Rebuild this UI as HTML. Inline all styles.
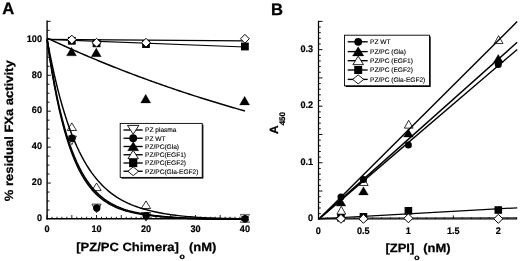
<!DOCTYPE html>
<html><head><meta charset="utf-8"><title>Figure</title>
<style>
html,body{margin:0;padding:0;background:#fff;}
svg{display:block;}
text{font-family:"Liberation Sans",Arial,sans-serif;fill:#000;text-rendering:geometricPrecision;}
.tk{font-size:9.5px;font-weight:bold;stroke:#000;stroke-width:0.2px;}
.lg{font-size:6.6px;stroke:#000;stroke-width:0.12px;}
.pn{font-size:16.6px;font-weight:bold;stroke:#000;stroke-width:0.3px;}
.ti{font-size:12px;font-weight:bold;stroke:#000;stroke-width:0.25px;}
.sb{font-size:8px;font-weight:bold;}
.sb2{font-size:8px;font-weight:bold;}
</style></head><body>
<svg width="520" height="261" viewBox="0 0 520 261">
<rect width="520" height="261" fill="#fff"/>
<g id="panelA">
<polygon points="67.17,130.50 76.48,130.50 71.83,122.90" fill="#fff" stroke="#000" stroke-width="0.8" stroke-linejoin="miter"/>
<polygon points="91.90,190.60 101.20,190.60 96.55,183.00" fill="#fff" stroke="#000" stroke-width="0.8" stroke-linejoin="miter"/>
<polygon points="141.35,208.50 150.65,208.50 146.00,200.90" fill="#fff" stroke="#000" stroke-width="0.8" stroke-linejoin="miter"/>
<polygon points="240.25,222.40 249.55,222.40 244.90,214.80" fill="#fff" stroke="#000" stroke-width="0.6" stroke-linejoin="miter"/>
<polygon points="67.23,136.10 76.42,136.10 71.83,144.70" fill="#fff" stroke="#000" stroke-width="0.75"/>
<polygon points="91.95,204.10 101.15,204.10 96.55,212.70" fill="#fff" stroke="#000" stroke-width="0.75"/>
<polygon points="141.40,212.50 150.60,212.50 146.00,221.10" fill="#fff" stroke="#000" stroke-width="0.75"/>
<polygon points="240.30,214.40 249.50,214.40 244.90,223.00" fill="#fff" stroke="#000" stroke-width="0.6"/>
<polyline points="47.10,39.30 49.57,56.50 52.05,72.04 54.52,86.09 56.99,98.79 59.46,110.26 61.94,120.62 64.41,129.99 66.88,138.46 69.35,146.11 71.83,153.03 74.30,159.28 76.77,164.92 79.24,170.03 81.72,174.64 84.19,178.81 86.66,182.57 89.13,185.98 91.61,189.05 94.08,191.83 96.55,194.34 99.02,196.62 101.50,198.67 103.97,200.52 106.44,202.20 108.91,203.71 111.38,205.08 113.86,206.32 116.33,207.43 118.80,208.44 121.28,209.36 123.75,210.18 126.22,210.93 128.69,211.60 131.16,212.21 133.64,212.76 136.11,213.27 138.58,213.74 141.06,214.16 143.53,214.56 146.00,214.92 148.47,215.26 150.94,215.57 153.42,215.86 155.89,216.14 158.36,216.39 160.84,216.62 163.31,216.84 165.78,217.05 168.25,217.24 170.72,217.42 173.20,217.58 175.67,217.74 178.14,217.89 180.62,218.02 183.09,218.15 185.56,218.27 188.03,218.38 190.50,218.48 192.98,218.57 195.45,218.65 197.92,218.72 200.40,218.79 202.87,218.84 205.34,218.89 207.81,218.93 210.28,218.95 212.76,218.98 215.23,219.00 217.70,219.01 220.18,219.03 222.65,219.04 225.12,219.06 227.59,219.07 230.06,219.08 232.54,219.09 235.01,219.10 237.48,219.11 239.96,219.11 242.43,219.12 244.90,219.13" fill="none" stroke="#000" stroke-width="1.6"/>
<polyline points="47.10,39.30 49.57,55.85 52.05,70.87 54.52,84.50 56.99,96.86 59.46,108.08 61.94,118.26 64.41,127.50 66.88,135.88 69.35,143.48 71.83,150.38 74.30,156.64 76.77,162.32 79.24,167.47 81.72,172.15 84.19,176.39 86.66,180.24 89.13,183.73 91.61,186.90 94.08,189.77 96.55,192.38 99.02,194.75 101.50,196.90 103.97,198.84 106.44,200.61 108.91,202.22 111.38,203.67 113.86,204.99 116.33,206.19 118.80,207.28 121.28,208.26 123.75,209.16 126.22,209.97 128.69,210.71 131.16,211.38 133.64,211.99 136.11,212.55 138.58,213.06 141.06,213.54 143.53,213.98 146.00,214.38 148.47,214.76 150.94,215.11 153.42,215.43 155.89,215.74 158.36,216.02 160.84,216.28 163.31,216.52 165.78,216.75 168.25,216.97 170.72,217.17 173.20,217.35 175.67,217.53 178.14,217.69 180.62,217.84 183.09,217.98 185.56,218.11 188.03,218.23 190.50,218.35 192.98,218.45 195.45,218.54 197.92,218.62 200.40,218.69 202.87,218.76 205.34,218.81 207.81,218.85 210.28,218.89 212.76,218.91 215.23,218.94 217.70,218.96 220.18,218.98 222.65,219.00 225.12,219.02 227.59,219.03 230.06,219.05 232.54,219.06 235.01,219.07 237.48,219.08 239.96,219.09 242.43,219.10 244.90,219.10" fill="none" stroke="#000" stroke-width="1.6"/>
<polyline points="47.10,39.30 49.57,52.39 52.05,64.51 54.52,75.75 56.99,86.17 59.46,95.83 61.94,104.77 64.41,113.07 66.88,120.76 69.35,127.88 71.83,134.48 74.30,140.60 76.77,146.27 79.24,151.53 81.72,156.40 84.19,160.92 86.66,165.10 89.13,168.98 91.61,172.58 94.08,175.91 96.55,179.00 99.02,181.86 101.50,184.51 103.97,186.97 106.44,189.25 108.91,191.36 111.38,193.32 113.86,195.13 116.33,196.81 118.80,198.37 121.28,199.81 123.75,201.15 126.22,202.39 128.69,203.54 131.16,204.61 133.64,205.60 136.11,206.52 138.58,207.38 141.06,208.19 143.53,208.94 146.00,209.64 148.47,210.30 150.94,210.92 153.42,211.49 155.89,212.03 158.36,212.54 160.84,213.01 163.31,213.46 165.78,213.87 168.25,214.26 170.72,214.63 173.20,214.97 175.67,215.30 178.14,215.60 180.62,215.88 183.09,216.14 185.56,216.38 188.03,216.61 190.50,216.82 192.98,217.02 195.45,217.20 197.92,217.37 200.40,217.52 202.87,217.66 205.34,217.78 207.81,217.89 210.28,217.99 212.76,218.08 215.23,218.16 217.70,218.23 220.18,218.30 222.65,218.36 225.12,218.42 227.59,218.48 230.06,218.53 232.54,218.58 235.01,218.62 237.48,218.66 239.96,218.70 242.43,218.74 244.90,218.77" fill="none" stroke="#000" stroke-width="1.45"/>
<polyline points="47.10,38.04 49.57,39.21 52.05,40.36 54.52,41.51 56.99,42.65 59.46,43.78 61.94,44.91 64.41,46.03 66.88,47.14 69.35,48.25 71.83,49.35 74.30,50.44 76.77,51.52 79.24,52.60 81.72,53.67 84.19,54.73 86.66,55.79 89.13,56.83 91.61,57.88 94.08,58.91 96.55,59.94 99.02,60.97 101.50,61.98 103.97,62.99 106.44,63.99 108.91,64.99 111.38,65.98 113.86,66.96 116.33,67.94 118.80,68.91 121.28,69.88 123.75,70.84 126.22,71.79 128.69,72.74 131.16,73.68 133.64,74.61 136.11,75.54 138.58,76.46 141.06,77.38 143.53,78.29 146.00,79.19 148.47,80.09 150.94,80.98 153.42,81.87 155.89,82.75 158.36,83.63 160.84,84.50 163.31,85.36 165.78,86.22 168.25,87.08 170.72,87.93 173.20,88.77 175.67,89.61 178.14,90.44 180.62,91.26 183.09,92.09 185.56,92.90 188.03,93.71 190.50,94.52 192.98,95.32 195.45,96.11 197.92,96.90 200.40,97.69 202.87,98.47 205.34,99.24 207.81,100.01 210.28,100.78 212.76,101.54 215.23,102.29 217.70,103.04 220.18,103.79 222.65,104.53 225.12,105.27 227.59,106.00 230.06,106.72 232.54,107.45 235.01,108.16 237.48,108.88 239.96,109.58 242.43,110.29 244.90,110.99" fill="none" stroke="#000" stroke-width="1.45"/>
<line x1="47.10" y1="39.30" x2="244.90" y2="47.0" stroke="#000" stroke-width="1.25"/>
<line x1="47.10" y1="39.30" x2="244.90" y2="40.8" stroke="#000" stroke-width="1.25"/>
<line x1="47.1" y1="20.6" x2="47.1" y2="219.55" stroke="#000" stroke-width="1.4"/>
<line x1="46.4" y1="218.8" x2="244.9" y2="218.8" stroke="#000" stroke-width="1.5"/>
<line x1="47.1" y1="210.01" x2="49.50000000000001" y2="210.01" stroke="#000" stroke-width="0.95"/>
<line x1="47.1" y1="201.03" x2="49.50000000000001" y2="201.03" stroke="#000" stroke-width="0.95"/>
<line x1="47.1" y1="192.05" x2="49.50000000000001" y2="192.05" stroke="#000" stroke-width="0.95"/>
<line x1="47.1" y1="183.06" x2="50.800000000000004" y2="183.06" stroke="#000" stroke-width="0.95"/>
<line x1="47.1" y1="174.07" x2="49.50000000000001" y2="174.07" stroke="#000" stroke-width="0.95"/>
<line x1="47.1" y1="165.09" x2="49.50000000000001" y2="165.09" stroke="#000" stroke-width="0.95"/>
<line x1="47.1" y1="156.11" x2="49.50000000000001" y2="156.11" stroke="#000" stroke-width="0.95"/>
<line x1="47.1" y1="147.12" x2="50.800000000000004" y2="147.12" stroke="#000" stroke-width="0.95"/>
<line x1="47.1" y1="138.13" x2="49.50000000000001" y2="138.13" stroke="#000" stroke-width="0.95"/>
<line x1="47.1" y1="129.15" x2="49.50000000000001" y2="129.15" stroke="#000" stroke-width="0.95"/>
<line x1="47.1" y1="120.17" x2="49.50000000000001" y2="120.17" stroke="#000" stroke-width="0.95"/>
<line x1="47.1" y1="111.18" x2="50.800000000000004" y2="111.18" stroke="#000" stroke-width="0.95"/>
<line x1="47.1" y1="102.20" x2="49.50000000000001" y2="102.20" stroke="#000" stroke-width="0.95"/>
<line x1="47.1" y1="93.21" x2="49.50000000000001" y2="93.21" stroke="#000" stroke-width="0.95"/>
<line x1="47.1" y1="84.22" x2="49.50000000000001" y2="84.22" stroke="#000" stroke-width="0.95"/>
<line x1="47.1" y1="75.24" x2="50.800000000000004" y2="75.24" stroke="#000" stroke-width="0.95"/>
<line x1="47.1" y1="66.25" x2="49.50000000000001" y2="66.25" stroke="#000" stroke-width="0.95"/>
<line x1="47.1" y1="57.27" x2="49.50000000000001" y2="57.27" stroke="#000" stroke-width="0.95"/>
<line x1="47.1" y1="48.28" x2="49.50000000000001" y2="48.28" stroke="#000" stroke-width="0.95"/>
<line x1="47.1" y1="39.30" x2="50.800000000000004" y2="39.30" stroke="#000" stroke-width="0.95"/>
<line x1="47.1" y1="30.31" x2="49.50000000000001" y2="30.31" stroke="#000" stroke-width="0.95"/>
<line x1="47.1" y1="21.33" x2="50.6" y2="21.33" stroke="#000" stroke-width="0.95"/>
<line x1="47.10" y1="218.8" x2="47.10" y2="215.05" stroke="#000" stroke-width="0.9"/>
<line x1="52.05" y1="218.8" x2="52.05" y2="216.75" stroke="#000" stroke-width="0.9"/>
<line x1="56.99" y1="218.8" x2="56.99" y2="216.75" stroke="#000" stroke-width="0.9"/>
<line x1="61.94" y1="218.8" x2="61.94" y2="216.75" stroke="#000" stroke-width="0.9"/>
<line x1="66.88" y1="218.8" x2="66.88" y2="216.75" stroke="#000" stroke-width="0.9"/>
<line x1="71.83" y1="218.8" x2="71.83" y2="215.05" stroke="#000" stroke-width="0.9"/>
<line x1="76.77" y1="218.8" x2="76.77" y2="216.75" stroke="#000" stroke-width="0.9"/>
<line x1="81.72" y1="218.8" x2="81.72" y2="216.75" stroke="#000" stroke-width="0.9"/>
<line x1="86.66" y1="218.8" x2="86.66" y2="216.75" stroke="#000" stroke-width="0.9"/>
<line x1="91.61" y1="218.8" x2="91.61" y2="216.75" stroke="#000" stroke-width="0.9"/>
<line x1="96.55" y1="218.8" x2="96.55" y2="215.05" stroke="#000" stroke-width="0.9"/>
<line x1="101.50" y1="218.8" x2="101.50" y2="216.75" stroke="#000" stroke-width="0.9"/>
<line x1="106.44" y1="218.8" x2="106.44" y2="216.75" stroke="#000" stroke-width="0.9"/>
<line x1="111.38" y1="218.8" x2="111.38" y2="216.75" stroke="#000" stroke-width="0.9"/>
<line x1="116.33" y1="218.8" x2="116.33" y2="216.75" stroke="#000" stroke-width="0.9"/>
<line x1="121.28" y1="218.8" x2="121.28" y2="215.05" stroke="#000" stroke-width="0.9"/>
<line x1="126.22" y1="218.8" x2="126.22" y2="216.75" stroke="#000" stroke-width="0.9"/>
<line x1="131.16" y1="218.8" x2="131.16" y2="216.75" stroke="#000" stroke-width="0.9"/>
<line x1="136.11" y1="218.8" x2="136.11" y2="216.75" stroke="#000" stroke-width="0.9"/>
<line x1="141.06" y1="218.8" x2="141.06" y2="216.75" stroke="#000" stroke-width="0.9"/>
<line x1="146.00" y1="218.8" x2="146.00" y2="215.05" stroke="#000" stroke-width="0.9"/>
<line x1="150.94" y1="218.8" x2="150.94" y2="216.75" stroke="#000" stroke-width="0.9"/>
<line x1="155.89" y1="218.8" x2="155.89" y2="216.75" stroke="#000" stroke-width="0.9"/>
<line x1="160.84" y1="218.8" x2="160.84" y2="216.75" stroke="#000" stroke-width="0.9"/>
<line x1="165.78" y1="218.8" x2="165.78" y2="216.75" stroke="#000" stroke-width="0.9"/>
<line x1="170.72" y1="218.8" x2="170.72" y2="215.05" stroke="#000" stroke-width="0.9"/>
<line x1="175.67" y1="218.8" x2="175.67" y2="216.75" stroke="#000" stroke-width="0.9"/>
<line x1="180.62" y1="218.8" x2="180.62" y2="216.75" stroke="#000" stroke-width="0.9"/>
<line x1="185.56" y1="218.8" x2="185.56" y2="216.75" stroke="#000" stroke-width="0.9"/>
<line x1="190.50" y1="218.8" x2="190.50" y2="216.75" stroke="#000" stroke-width="0.9"/>
<line x1="195.45" y1="218.8" x2="195.45" y2="215.05" stroke="#000" stroke-width="0.9"/>
<line x1="200.40" y1="218.8" x2="200.40" y2="216.75" stroke="#000" stroke-width="0.9"/>
<line x1="205.34" y1="218.8" x2="205.34" y2="216.75" stroke="#000" stroke-width="0.9"/>
<line x1="210.28" y1="218.8" x2="210.28" y2="216.75" stroke="#000" stroke-width="0.9"/>
<line x1="215.23" y1="218.8" x2="215.23" y2="216.75" stroke="#000" stroke-width="0.9"/>
<line x1="220.18" y1="218.8" x2="220.18" y2="215.05" stroke="#000" stroke-width="0.9"/>
<line x1="225.12" y1="218.8" x2="225.12" y2="216.75" stroke="#000" stroke-width="0.9"/>
<line x1="230.06" y1="218.8" x2="230.06" y2="216.75" stroke="#000" stroke-width="0.9"/>
<line x1="235.01" y1="218.8" x2="235.01" y2="216.75" stroke="#000" stroke-width="0.9"/>
<line x1="239.96" y1="218.8" x2="239.96" y2="216.75" stroke="#000" stroke-width="0.9"/>
<line x1="244.90" y1="218.8" x2="244.90" y2="215.05" stroke="#000" stroke-width="0.9"/>
<text transform="translate(42,221.30) scale(0.96,1)" text-anchor="end" class="tk">0</text>
<text transform="translate(42,185.36) scale(0.96,1)" text-anchor="end" class="tk">20</text>
<text transform="translate(42,149.42) scale(0.96,1)" text-anchor="end" class="tk">40</text>
<text transform="translate(42,113.48) scale(0.96,1)" text-anchor="end" class="tk">60</text>
<text transform="translate(42,77.54) scale(0.96,1)" text-anchor="end" class="tk">80</text>
<text transform="translate(42,41.60) scale(0.96,1)" text-anchor="end" class="tk">100</text>
<text transform="translate(47.10,232.3) scale(0.96,1)" text-anchor="middle" class="tk">0</text>
<text transform="translate(96.55,232.3) scale(0.96,1)" text-anchor="middle" class="tk">10</text>
<text transform="translate(146.00,232.3) scale(0.96,1)" text-anchor="middle" class="tk">20</text>
<text transform="translate(195.45,232.3) scale(0.96,1)" text-anchor="middle" class="tk">30</text>
<text transform="translate(244.90,232.3) scale(0.96,1)" text-anchor="middle" class="tk">40</text>
<circle cx="72.03" cy="138.30" r="3.7" fill="#000"/>
<circle cx="96.75" cy="208.00" r="3.7" fill="#000"/>
<circle cx="146.20" cy="215.80" r="3.7" fill="#000"/>
<circle cx="245.10" cy="218.70" r="3.7" fill="#000"/>
<polygon points="66.53,55.80 76.53,55.80 71.53,47.20" fill="#000" stroke="#000" stroke-width="0.3" stroke-linejoin="miter"/>
<polygon points="91.25,56.70 101.25,56.70 96.25,48.10" fill="#000" stroke="#000" stroke-width="0.3" stroke-linejoin="miter"/>
<polygon points="140.70,102.90 150.70,102.90 145.70,94.30" fill="#000" stroke="#000" stroke-width="0.3" stroke-linejoin="miter"/>
<polygon points="239.60,104.90 249.60,104.90 244.60,96.30" fill="#000" stroke="#000" stroke-width="0.3" stroke-linejoin="miter"/>
<rect x="67.92" y="36.90" width="7.8" height="7.8" fill="#000"/>
<rect x="92.65" y="39.40" width="7.8" height="7.8" fill="#000"/>
<rect x="142.10" y="40.20" width="7.8" height="7.8" fill="#000"/>
<rect x="241.00" y="42.60" width="7.8" height="7.8" fill="#000"/>
<polygon points="67.42,39.60 71.83,35.20 76.23,39.60 71.83,44.00" fill="#fff" stroke="#000" stroke-width="1.0"/>
<polygon points="92.15,42.70 96.55,38.30 100.95,42.70 96.55,47.10" fill="#fff" stroke="#000" stroke-width="1.0"/>
<polygon points="141.60,42.70 146.00,38.30 150.40,42.70 146.00,47.10" fill="#fff" stroke="#000" stroke-width="1.0"/>
<polygon points="240.50,38.80 244.90,34.40 249.30,38.80 244.90,43.20" fill="#fff" stroke="#000" stroke-width="1.0"/>
<rect x="121.4" y="124.6" width="82" height="54" fill="#000"/>
<rect x="120.2" y="123.4" width="82" height="54" fill="#fff" stroke="#000" stroke-width="0.9"/>
<line x1="123.5" y1="130.0" x2="142.7" y2="130.0" stroke="#000" stroke-width="1.35"/>
<polygon points="127.50,125.40 138.90,125.40 133.20,134.20" fill="#fff" stroke="#000" stroke-width="0.9"/>
<text x="145" y="132.40" class="lg">PZ plasma</text>
<line x1="123.5" y1="138.25" x2="142.7" y2="138.25" stroke="#000" stroke-width="1.35"/>
<circle cx="133.20" cy="138.25" r="3.9" fill="#000"/>
<text x="145" y="140.65" class="lg">PZ WT</text>
<line x1="123.5" y1="146.5" x2="142.7" y2="146.5" stroke="#000" stroke-width="1.35"/>
<polygon points="127.60,150.70 138.80,150.70 133.20,141.70" fill="#000" stroke="#000" stroke-width="0.3" stroke-linejoin="miter"/>
<text x="145" y="148.90" class="lg">PZ/PC(Gla)</text>
<line x1="123.5" y1="154.75" x2="142.7" y2="154.75" stroke="#000" stroke-width="1.35"/>
<polygon points="128.00,158.65 138.40,158.65 133.20,150.25" fill="#fff" stroke="#000" stroke-width="0.9" stroke-linejoin="miter"/>
<text x="145" y="157.15" class="lg">PZ/PC(EGF1)</text>
<line x1="123.5" y1="163.0" x2="142.7" y2="163.0" stroke="#000" stroke-width="1.35"/>
<rect x="129.10" y="158.90" width="8.2" height="8.2" fill="#000"/>
<text x="145" y="165.40" class="lg">PZ/PC(EGF2)</text>
<line x1="123.5" y1="171.25" x2="142.7" y2="171.25" stroke="#000" stroke-width="1.35"/>
<polygon points="127.90,171.25 133.20,166.85 138.50,171.25 133.20,175.65" fill="#fff" stroke="#000" stroke-width="0.9"/>
<text x="145" y="173.65" class="lg">PZ/PC(Gla-EGF2)</text>
<text x="2.2" y="13.8" class="pn">A</text>
<text transform="translate(13.3,130.8) rotate(-90) scale(1.083,1)" text-anchor="middle" class="ti">% residual FXa activity</text>
<text transform="translate(76.2,251.2) scale(1.083,1)" class="ti">[PZ/PC Chimera]<tspan dy="7.4" dx="0.6" class="sb">o</tspan><tspan dy="-7.4" dx="0.6"> (nM)</tspan></text>
</g>
<g id="panelB">
<polygon points="336.88,214.15 345.68,214.15 341.28,206.25" fill="#fff" stroke="#000" stroke-width="0.8" stroke-linejoin="miter"/>
<polygon points="359.35,185.45 368.15,185.45 363.75,177.55" fill="#fff" stroke="#000" stroke-width="0.8" stroke-linejoin="miter"/>
<polygon points="404.30,128.15 413.10,128.15 408.70,120.25" fill="#fff" stroke="#000" stroke-width="0.8" stroke-linejoin="miter"/>
<polygon points="494.20,43.55 503.00,43.55 498.60,35.65" fill="#fff" stroke="#000" stroke-width="0.8" stroke-linejoin="miter"/>
<line x1="319.0" y1="218.9" x2="517.2" y2="21.5" stroke="#000" stroke-width="1.45"/>
<line x1="319.0" y1="218.9" x2="517.2" y2="42.3" stroke="#000" stroke-width="1.45"/>
<line x1="319.0" y1="218.9" x2="517.2" y2="49.5" stroke="#000" stroke-width="1.45"/>
<line x1="319.0" y1="218.9" x2="517.2" y2="207.8" stroke="#000" stroke-width="1.3"/>
<line x1="319.0" y1="218.0" x2="517.2" y2="217.6" stroke="#333" stroke-width="0.9"/>
<line x1="318.5" y1="20.8" x2="318.5" y2="219.6" stroke="#000" stroke-width="1.25"/>
<line x1="317.9" y1="218.9" x2="517.2" y2="218.9" stroke="#000" stroke-width="1.4"/>
<line x1="318.5" y1="213.65" x2="320.8" y2="213.65" stroke="#000" stroke-width="0.95"/>
<line x1="318.5" y1="207.99" x2="320.8" y2="207.99" stroke="#000" stroke-width="0.95"/>
<line x1="318.5" y1="202.34" x2="320.8" y2="202.34" stroke="#000" stroke-width="0.95"/>
<line x1="318.5" y1="196.68" x2="320.8" y2="196.68" stroke="#000" stroke-width="0.95"/>
<line x1="318.5" y1="191.03" x2="322.5" y2="191.03" stroke="#000" stroke-width="0.95"/>
<line x1="318.5" y1="185.37" x2="320.8" y2="185.37" stroke="#000" stroke-width="0.95"/>
<line x1="318.5" y1="179.72" x2="320.8" y2="179.72" stroke="#000" stroke-width="0.95"/>
<line x1="318.5" y1="174.06" x2="320.8" y2="174.06" stroke="#000" stroke-width="0.95"/>
<line x1="318.5" y1="168.41" x2="320.8" y2="168.41" stroke="#000" stroke-width="0.95"/>
<line x1="318.5" y1="162.75" x2="322.5" y2="162.75" stroke="#000" stroke-width="0.95"/>
<line x1="318.5" y1="157.10" x2="320.8" y2="157.10" stroke="#000" stroke-width="0.95"/>
<line x1="318.5" y1="151.44" x2="320.8" y2="151.44" stroke="#000" stroke-width="0.95"/>
<line x1="318.5" y1="145.79" x2="320.8" y2="145.79" stroke="#000" stroke-width="0.95"/>
<line x1="318.5" y1="140.13" x2="320.8" y2="140.13" stroke="#000" stroke-width="0.95"/>
<line x1="318.5" y1="134.48" x2="322.5" y2="134.48" stroke="#000" stroke-width="0.95"/>
<line x1="318.5" y1="128.82" x2="320.8" y2="128.82" stroke="#000" stroke-width="0.95"/>
<line x1="318.5" y1="123.17" x2="320.8" y2="123.17" stroke="#000" stroke-width="0.95"/>
<line x1="318.5" y1="117.51" x2="320.8" y2="117.51" stroke="#000" stroke-width="0.95"/>
<line x1="318.5" y1="111.86" x2="320.8" y2="111.86" stroke="#000" stroke-width="0.95"/>
<line x1="318.5" y1="106.20" x2="322.5" y2="106.20" stroke="#000" stroke-width="0.95"/>
<line x1="318.5" y1="100.55" x2="320.8" y2="100.55" stroke="#000" stroke-width="0.95"/>
<line x1="318.5" y1="94.89" x2="320.8" y2="94.89" stroke="#000" stroke-width="0.95"/>
<line x1="318.5" y1="89.24" x2="320.8" y2="89.24" stroke="#000" stroke-width="0.95"/>
<line x1="318.5" y1="83.58" x2="320.8" y2="83.58" stroke="#000" stroke-width="0.95"/>
<line x1="318.5" y1="77.93" x2="322.5" y2="77.93" stroke="#000" stroke-width="0.95"/>
<line x1="318.5" y1="72.27" x2="320.8" y2="72.27" stroke="#000" stroke-width="0.95"/>
<line x1="318.5" y1="66.62" x2="320.8" y2="66.62" stroke="#000" stroke-width="0.95"/>
<line x1="318.5" y1="60.96" x2="320.8" y2="60.96" stroke="#000" stroke-width="0.95"/>
<line x1="318.5" y1="55.31" x2="320.8" y2="55.31" stroke="#000" stroke-width="0.95"/>
<line x1="318.5" y1="49.65" x2="322.5" y2="49.65" stroke="#000" stroke-width="0.95"/>
<line x1="318.5" y1="44.00" x2="320.8" y2="44.00" stroke="#000" stroke-width="0.95"/>
<line x1="318.5" y1="38.34" x2="320.8" y2="38.34" stroke="#000" stroke-width="0.95"/>
<line x1="318.5" y1="32.69" x2="320.8" y2="32.69" stroke="#000" stroke-width="0.95"/>
<line x1="318.5" y1="27.03" x2="320.8" y2="27.03" stroke="#000" stroke-width="0.95"/>
<line x1="318.5" y1="21.38" x2="322.5" y2="21.38" stroke="#000" stroke-width="0.95"/>
<line x1="318.50" y1="218.9" x2="318.50" y2="215.4" stroke="#000" stroke-width="0.9"/>
<line x1="327.49" y1="218.9" x2="327.49" y2="217.3" stroke="#000" stroke-width="0.7"/>
<line x1="336.48" y1="218.9" x2="336.48" y2="217.3" stroke="#000" stroke-width="0.7"/>
<line x1="345.47" y1="218.9" x2="345.47" y2="217.3" stroke="#000" stroke-width="0.7"/>
<line x1="354.46" y1="218.9" x2="354.46" y2="217.3" stroke="#000" stroke-width="0.7"/>
<line x1="363.45" y1="218.9" x2="363.45" y2="215.4" stroke="#000" stroke-width="0.9"/>
<line x1="372.44" y1="218.9" x2="372.44" y2="217.3" stroke="#000" stroke-width="0.7"/>
<line x1="381.43" y1="218.9" x2="381.43" y2="217.3" stroke="#000" stroke-width="0.7"/>
<line x1="390.42" y1="218.9" x2="390.42" y2="217.3" stroke="#000" stroke-width="0.7"/>
<line x1="399.41" y1="218.9" x2="399.41" y2="217.3" stroke="#000" stroke-width="0.7"/>
<line x1="408.40" y1="218.9" x2="408.40" y2="215.4" stroke="#000" stroke-width="0.9"/>
<line x1="417.39" y1="218.9" x2="417.39" y2="217.3" stroke="#000" stroke-width="0.7"/>
<line x1="426.38" y1="218.9" x2="426.38" y2="217.3" stroke="#000" stroke-width="0.7"/>
<line x1="435.37" y1="218.9" x2="435.37" y2="217.3" stroke="#000" stroke-width="0.7"/>
<line x1="444.36" y1="218.9" x2="444.36" y2="217.3" stroke="#000" stroke-width="0.7"/>
<line x1="453.35" y1="218.9" x2="453.35" y2="215.4" stroke="#000" stroke-width="0.9"/>
<line x1="462.34" y1="218.9" x2="462.34" y2="217.3" stroke="#000" stroke-width="0.7"/>
<line x1="471.33" y1="218.9" x2="471.33" y2="217.3" stroke="#000" stroke-width="0.7"/>
<line x1="480.32" y1="218.9" x2="480.32" y2="217.3" stroke="#000" stroke-width="0.7"/>
<line x1="489.31" y1="218.9" x2="489.31" y2="217.3" stroke="#000" stroke-width="0.7"/>
<line x1="498.30" y1="218.9" x2="498.30" y2="215.4" stroke="#000" stroke-width="0.9"/>
<line x1="507.29" y1="218.9" x2="507.29" y2="217.3" stroke="#000" stroke-width="0.7"/>
<line x1="516.28" y1="218.9" x2="516.28" y2="217.3" stroke="#000" stroke-width="0.7"/>
<text transform="translate(313.1,221.40) scale(0.96,1)" text-anchor="end" class="tk">0</text>
<text transform="translate(313.1,164.85) scale(0.96,1)" text-anchor="end" class="tk">0.1</text>
<text transform="translate(313.1,108.30) scale(0.96,1)" text-anchor="end" class="tk">0.2</text>
<text transform="translate(313.1,51.75) scale(0.96,1)" text-anchor="end" class="tk">0.3</text>
<text transform="translate(318.40,233.9) scale(0.96,1)" text-anchor="middle" class="tk">0</text>
<text transform="translate(363.35,233.9) scale(0.96,1)" text-anchor="middle" class="tk">0.5</text>
<text transform="translate(408.30,233.9) scale(0.96,1)" text-anchor="middle" class="tk">1</text>
<text transform="translate(453.25,233.9) scale(0.96,1)" text-anchor="middle" class="tk">1.5</text>
<text transform="translate(498.20,233.9) scale(0.96,1)" text-anchor="middle" class="tk">2</text>
<polygon points="336.08,206.10 345.88,206.10 340.98,197.90" fill="#000" stroke="#000" stroke-width="0.3" stroke-linejoin="miter"/>
<polygon points="358.55,194.90 368.35,194.90 363.45,186.70" fill="#000" stroke="#000" stroke-width="0.3" stroke-linejoin="miter"/>
<polygon points="403.50,137.10 413.30,137.10 408.40,128.90" fill="#000" stroke="#000" stroke-width="0.3" stroke-linejoin="miter"/>
<polygon points="493.40,62.60 503.20,62.60 498.30,54.40" fill="#000" stroke="#000" stroke-width="0.3" stroke-linejoin="miter"/>
<circle cx="340.98" cy="196.90" r="3.5" fill="#000"/>
<circle cx="363.45" cy="179.50" r="3.5" fill="#000"/>
<circle cx="408.40" cy="145.00" r="3.5" fill="#000"/>
<circle cx="498.30" cy="64.60" r="3.5" fill="#000"/>
<rect x="337.18" y="214.00" width="7.6" height="7.6" fill="#000"/>
<rect x="359.65" y="213.00" width="7.6" height="7.6" fill="#000"/>
<rect x="404.60" y="207.00" width="7.6" height="7.6" fill="#000"/>
<rect x="494.50" y="206.20" width="7.6" height="7.6" fill="#000"/>
<polygon points="336.48,218.80 340.98,214.30 345.48,218.80 340.98,223.30" fill="#fff" stroke="#000" stroke-width="1.0"/>
<polygon points="358.95,218.80 363.45,214.30 367.95,218.80 363.45,223.30" fill="#fff" stroke="#000" stroke-width="1.0"/>
<polygon points="403.90,218.30 408.40,213.80 412.90,218.30 408.40,222.80" fill="#fff" stroke="#000" stroke-width="1.0"/>
<polygon points="493.80,218.80 498.30,214.30 502.80,218.80 498.30,223.30" fill="#fff" stroke="#000" stroke-width="1.0"/>
<rect x="345.7" y="36.4" width="85" height="50.6" fill="#000"/>
<rect x="344.5" y="35.2" width="85" height="50.6" fill="#fff" stroke="#000" stroke-width="0.9"/>
<line x1="347.7" y1="41.8" x2="367.7" y2="41.8" stroke="#000" stroke-width="1.35"/>
<circle cx="358.20" cy="41.80" r="3.9" fill="#000"/>
<text x="370" y="44.20" class="lg">PZ WT</text>
<line x1="347.7" y1="51.6" x2="367.7" y2="51.6" stroke="#000" stroke-width="1.35"/>
<polygon points="352.50,55.90 363.90,55.90 358.20,46.70" fill="#000" stroke="#000" stroke-width="0.3" stroke-linejoin="miter"/>
<text x="370" y="54.00" class="lg">PZ/PC (Gla)</text>
<line x1="347.7" y1="60.7" x2="367.7" y2="60.7" stroke="#000" stroke-width="1.35"/>
<polygon points="352.90,64.70 363.50,64.70 358.20,56.10" fill="#fff" stroke="#000" stroke-width="0.9" stroke-linejoin="miter"/>
<text x="370" y="63.10" class="lg">PZ/PC (EGF1)</text>
<line x1="347.7" y1="70.0" x2="367.7" y2="70.0" stroke="#000" stroke-width="1.35"/>
<rect x="354.20" y="66.00" width="8.0" height="8.0" fill="#000"/>
<text x="370" y="72.40" class="lg">PZ/PC (EGF2)</text>
<line x1="347.7" y1="79.4" x2="367.7" y2="79.4" stroke="#000" stroke-width="1.35"/>
<polygon points="352.70,79.40 358.20,74.90 363.70,79.40 358.20,83.90" fill="#fff" stroke="#000" stroke-width="0.9"/>
<text x="370" y="81.80" class="lg">PZ/PC (Gla-EGF2)</text>
<text x="271.0" y="14.7" class="pn">B</text>
<text transform="translate(277.8,134.0) rotate(-90)" class="ti">A<tspan dy="6.9" class="sb2">450</tspan></text>
<text transform="translate(385.4,252) scale(1.083,1)" class="ti">[ZPI]<tspan dy="7.6" class="sb">o</tspan><tspan dy="-7.6"> (nM)</tspan></text>
</g>
</svg>
</body></html>
